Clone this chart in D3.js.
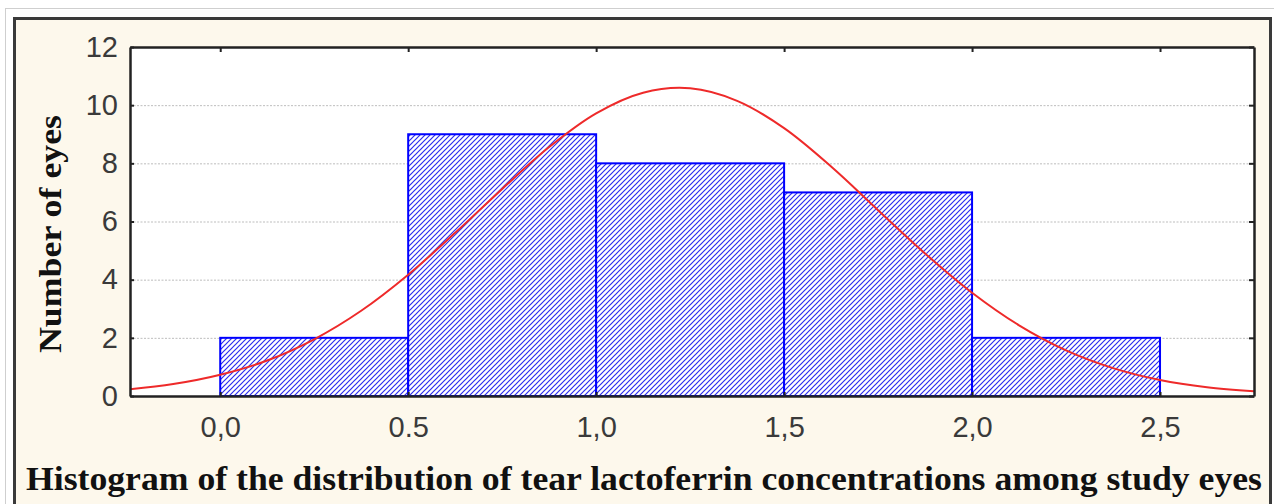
<!DOCTYPE html>
<html>
  <head>
    <meta charset="utf-8">
    <title>Histogram</title>
    <style media="screen">
      body { margin: 0; background: #fff; }
      .tick text { font-family: "Liberation Sans", Arial, sans-serif; fill: #3a3a3a; }
      .grid line { stroke: #bdbdbd; stroke-dasharray: 2,1.5; }
      .MyRect { fill: url(#hatch); stroke: #0000ff; stroke-width: 2; }
    </style>
  </head>
  <body>
    <div class="container"></div>
    <script src="https://cdn.jsdelivr.net/npm/d3@7/dist/d3.min.js" charset="utf-8"></script>
    <script type="text/javascript">
    var width = 1274;
    var height = 504;

    // bins and counts
    var binStart = [0.0, 0.5, 1.0, 1.5, 2.0];
    var binEnd = [0.5, 1.0, 1.5, 2.0, 2.5];
    var counts = [2, 9, 8, 7, 2];

    // fitted normal curve
    var curveX = [-0.25, -0.125, 0, 0.125, 0.25, 0.375, 0.5, 0.625, 0.75, 0.875, 1.0, 1.125, 1.25,
                  1.375, 1.5, 1.625, 1.75, 1.875, 2.0, 2.125, 2.25, 2.375, 2.5, 2.625, 2.75];
    var curveY = [0.22, 0.41, 0.73, 1.22, 1.95, 2.93, 4.17, 5.61, 7.12, 8.56, 9.72, 10.43, 10.58,
                  10.15, 9.21, 7.89, 6.39, 4.90, 3.55, 2.43, 1.57, 0.96, 0.55, 0.30, 0.16];

    var xTicks = [0, 0.5, 1.0, 1.5, 2.0, 2.5];
    var xTickLabels = ["0,0", "0.5", "1,0", "1,5", "2,0", "2,5"];
    var yTicks = [0, 2, 4, 6, 8, 10, 12];

    var padding = { left: 130, right: 20, top: 47, bottom: 108 };

    var svg = d3.select(".container")
        .append("svg")
        .attr("width", width)
        .attr("height", height);

    // hatch fill
    var pat = svg.append("defs").append("pattern")
        .attr("id", "hatch")
        .attr("patternUnits", "userSpaceOnUse")
        .attr("width", 5)
        .attr("height", 5);
    pat.append("rect").attr("width", 5).attr("height", 5).attr("fill", "#fff");
    pat.append("path")
        .attr("d", "M0,5 L5,0 M-1,1 L1,-1 M4,6 L6,4")
        .attr("stroke", "#2b2bf0")
        .attr("stroke-width", 1.2);

    // outer page border + cream panel
    svg.append("rect")
        .attr("x", 5.5).attr("y", 8.5)
        .attr("width", 1280).attr("height", 520)
        .attr("fill", "#fff").attr("stroke", "#cfcfcf");
    svg.append("rect")
        .attr("x", 14.5).attr("y", 18.5)
        .attr("width", 1256).attr("height", 500)
        .attr("fill", "#fdf8ec").attr("stroke", "#3a3a3a").attr("stroke-width", 3);

    var x = d3.scaleLinear()
        .domain([-0.24, 2.75])
        .range([padding.left, width - padding.right]);
    var y = d3.scaleLinear()
        .domain([0, 12])
        .range([height - padding.bottom, padding.top]);

    // plot area
    svg.append("rect")
        .attr("x", x(-0.24)).attr("y", y(12))
        .attr("width", x(2.75) - x(-0.24))
        .attr("height", y(0) - y(12))
        .attr("fill", "#fff");

    // grid
    svg.append("g")
        .attr("class", "grid")
        .attr("transform", "translate(" + x(-0.24) + ",0)")
        .call(d3.axisLeft(y).tickValues([2, 4, 6, 8, 10]).tickSize(-(x(2.75) - x(-0.24))).tickFormat(""))
        .call(function(g) { g.select(".domain").remove(); });

    svg.selectAll(".MyRect")
        .data(counts)
        .enter()
        .append("rect")
        .attr("class", "MyRect")
        .attr("x", function(d, i) { return x(binStart[i]); })
        .attr("y", function(d) { return y(d); })
        .attr("width", function(d, i) { return x(binEnd[i]) - x(binStart[i]); })
        .attr("height", function(d) { return y(0) - y(d); });

    svg.append("clipPath").attr("id", "clip")
        .append("rect")
        .attr("x", x(-0.24)).attr("y", y(12))
        .attr("width", x(2.75) - x(-0.24))
        .attr("height", y(0) - y(12));

    var line = d3.line()
        .x(function(d, i) { return x(curveX[i]); })
        .y(function(d) { return y(d); })
        .curve(d3.curveCatmullRom);

    svg.append("path")
        .datum(curveY)
        .attr("clip-path", "url(#clip)")
        .attr("d", line)
        .attr("fill", "none")
        .attr("stroke", "#ee2a2a")
        .attr("stroke-width", 2);

    // axes
    var yAxis = svg.append("g")
        .attr("transform", "translate(" + x(-0.24) + ",0)")
        .call(d3.axisLeft(y).tickValues(yTicks).tickSizeInner(-4).tickSizeOuter(0).tickPadding(12));
    yAxis.selectAll("text").attr("font-size", 29);

    var xAxis = svg.append("g")
        .attr("transform", "translate(0," + y(0) + ")")
        .call(d3.axisBottom(x).tickValues(xTicks).tickSizeInner(-4).tickSizeOuter(0).tickPadding(20)
          .tickFormat(function(d, i) { return xTickLabels[i]; }));
    xAxis.selectAll("text").attr("font-size", 29);

    svg.append("g")
        .attr("transform", "translate(0," + y(12) + ")")
        .call(d3.axisTop(x).tickValues(xTicks).tickSizeInner(-5).tickSizeOuter(0).tickFormat(""));
    svg.append("g")
        .attr("transform", "translate(" + x(2.75) + ",0)")
        .call(d3.axisRight(y).tickValues(yTicks).tickSizeInner(-5).tickSizeOuter(0).tickFormat(""));

    svg.selectAll(".domain").attr("stroke", "#222").attr("stroke-width", 2.5);
    svg.selectAll(".tick line").filter(function() { return !this.closest(".grid"); })
        .attr("stroke", "#222").attr("stroke-width", 2);

    // labels
    svg.append("text")
        .attr("transform", "translate(61," + 234 + ") rotate(-90)")
        .attr("text-anchor", "middle")
        .attr("font-family", "'Liberation Serif', 'Times New Roman', serif")
        .attr("font-weight", "bold")
        .attr("font-size", 32)
        .attr("textLength", 238)
        .attr("lengthAdjust", "spacingAndGlyphs")
        .attr("fill", "#111")
        .text("Number of eyes");

    svg.append("text")
        .attr("x", 26)
        .attr("y", 490)
        .attr("font-family", "'Liberation Serif', 'Times New Roman', serif")
        .attr("font-weight", "bold")
        .attr("font-size", 33)
        .attr("textLength", 1236)
        .attr("lengthAdjust", "spacingAndGlyphs")
        .attr("fill", "#111")
        .text("Histogram of the distribution of tear lactoferrin concentrations among study eyes");
    </script>
  </body>
</html>
